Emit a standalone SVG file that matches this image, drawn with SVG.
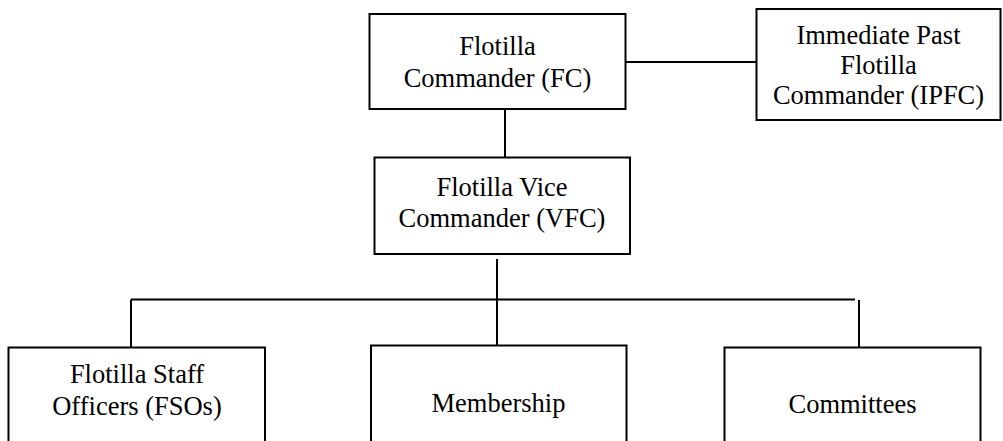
<svg xmlns="http://www.w3.org/2000/svg" width="1003" height="441" viewBox="0 0 1003 441">
<style>
.box{fill:#fff;stroke:#000;stroke-width:2}
.ln{fill:none;stroke:#000;stroke-width:2}
text{font-family:"Liberation Serif","Times New Roman",serif;font-size:26.5px;fill:#000;text-anchor:middle}
</style>
<rect width="1003" height="441" fill="#fff"/>
<g id="connectors">
<line class="ln" x1="625.5" y1="62" x2="756.5" y2="62"/>
<line class="ln" x1="505" y1="109" x2="505" y2="157.5"/>
<line class="ln" x1="497" y1="259" x2="497" y2="345.5"/>
<line class="ln" x1="131" y1="299.5" x2="855" y2="299.5"/>
<line class="ln" x1="131" y1="299.5" x2="131" y2="347.5"/>
<line class="ln" x1="859" y1="300" x2="859" y2="347.5"/>
</g>
<g id="fc">
<rect class="box" x="369.5" y="14" width="256" height="95"/>
<text x="497.5" y="55">Flotilla</text>
<text x="497.5" y="87">Commander (FC)</text>
</g>
<g id="ipfc">
<rect class="box" x="756.5" y="9" width="244" height="111"/>
<text x="878.5" y="44">Immediate Past</text>
<text x="878.5" y="74">Flotilla</text>
<text x="878.5" y="104">Commander (IPFC)</text>
</g>
<g id="vfc">
<rect class="box" x="374.5" y="157.5" width="255.5" height="96.5"/>
<text x="502" y="196">Flotilla Vice</text>
<text x="502" y="227">Commander (VFC)</text>
</g>
<g id="fso">
<rect class="box" x="8.5" y="347.5" width="256.5" height="110"/>
<text x="137" y="383">Flotilla Staff</text>
<text x="137" y="415">Officers (FSOs)</text>
</g>
<g id="membership">
<rect class="box" x="371" y="345.5" width="255.5" height="110"/>
<text x="498.5" y="412">Membership</text>
</g>
<g id="committees">
<rect class="box" x="724.5" y="347.5" width="256" height="110"/>
<text x="852.5" y="413">Committees</text>
</g>
</svg>
